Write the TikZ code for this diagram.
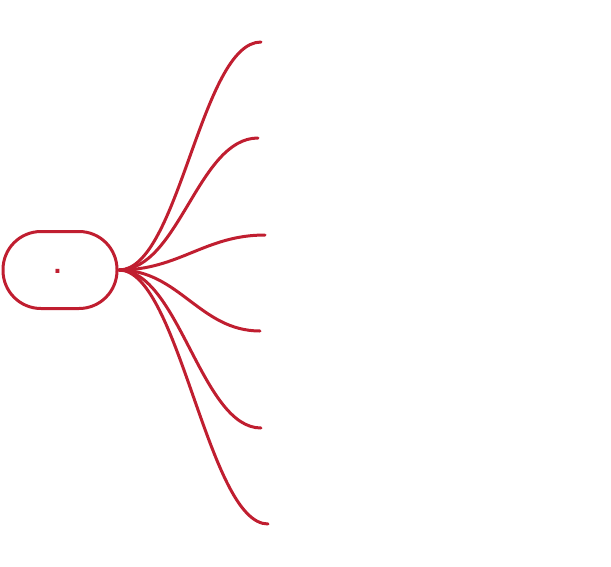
\documentclass[tikz,border=0pt]{standalone}
\usepackage{fontspec}
\setmainfont{DejaVu Sans}
\definecolor{mapred}{RGB}{192,30,48}
\begin{document}
\begin{tikzpicture}[x=1pt,y=-1pt,
  rootbox/.style={draw=mapred, line width=3pt, rounded corners=38pt, minimum width=114pt, minimum height=77pt, inner sep=0pt},
  dottext/.style={text=mapred, font=\bfseries\fontsize{22}{22}\selectfont, inner sep=0pt, anchor=base},
  branch/.style={draw=mapred, line width=3pt, line cap=round}]
\useasboundingbox (0,0) rectangle (611,566);
\node[rootbox] (root) at (60,270) {};
\node[dottext] (dot) at (57.5,273.5) {.};
\coordinate (s) at (119,270);
\coordinate (e1) at (261,42);
\coordinate (e2) at (258,138);
\coordinate (e3) at (265,235);
\coordinate (e4) at (260,331);
\coordinate (e5) at (261,428);
\coordinate (e6) at (268,524);
\foreach \e in {e1,e2,e3,e4,e5,e6}{
  \draw[branch] (s) .. controls ([xshift=60pt]s) and ([xshift=-60pt]\e) .. (\e);
}
\end{tikzpicture}
\end{document}
